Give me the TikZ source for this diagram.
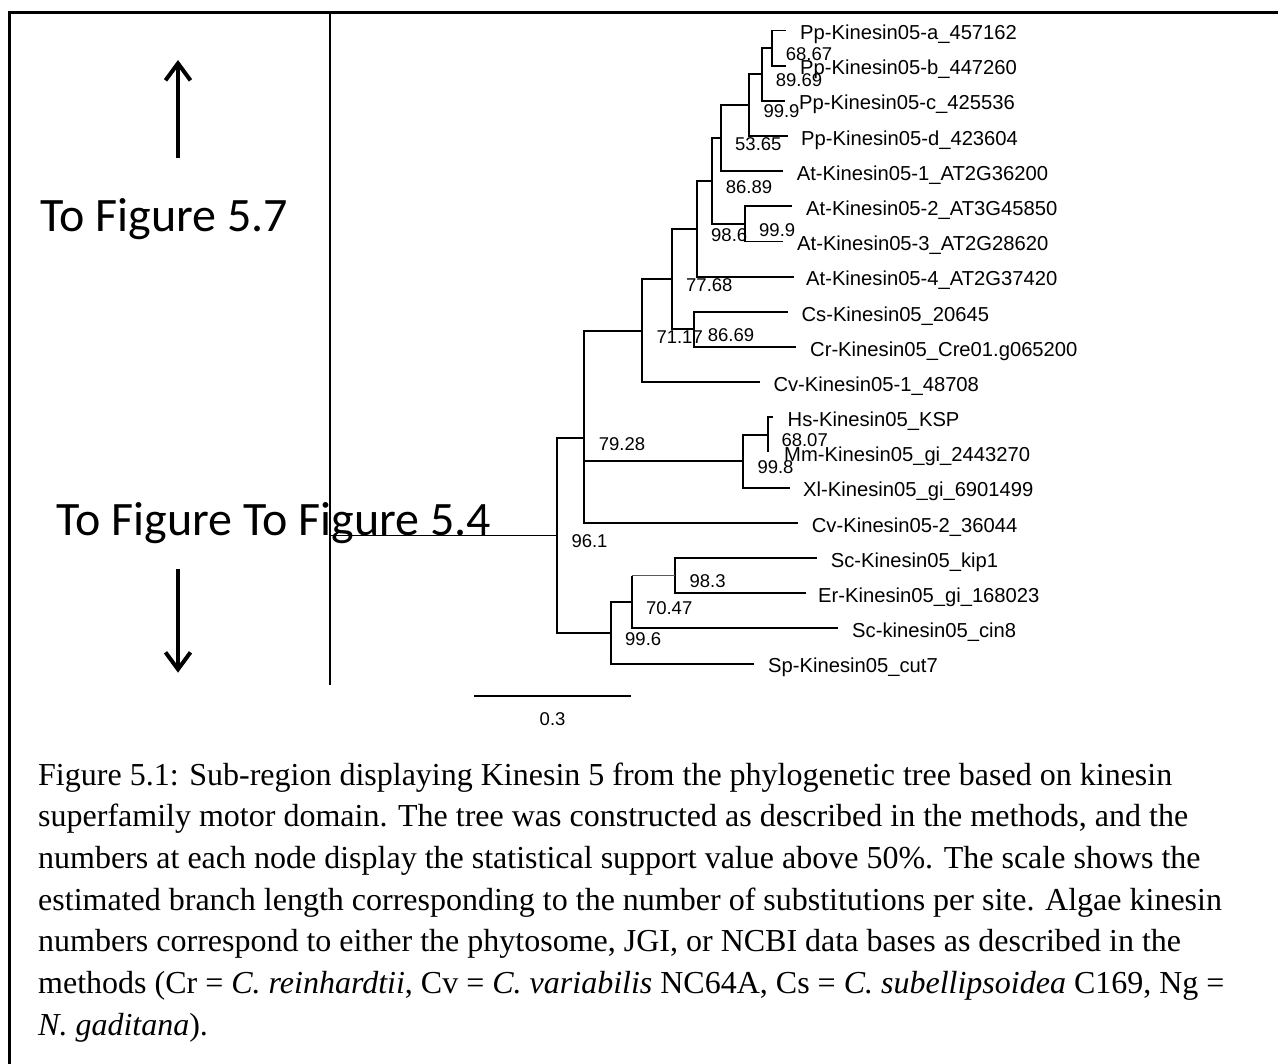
\documentclass[tikz,border=0pt]{standalone}
\usepackage{fontspec}
\setmainfont{Liberation Serif}
\newfontfamily\arialf{Liberation Sans}
\newfontfamily\calibrif{Carlito}
\usetikzlibrary{arrows.meta}
\begin{document}
\begin{tikzpicture}[x=1pt,y=-1pt,
  br/.style={line width=1.9pt, line join=miter},
  thinbr/.style={line width=1.2pt, draw=black!65},
  leaf/.style={anchor=base west, inner sep=0pt, font=\arialf\fontsize{20.2}{22}\selectfont},
  sup/.style={anchor=west, inner sep=0pt, font=\arialf\fontsize{18.5}{20}\selectfont},
  captxt/.style={anchor=base west, inner sep=0pt, font=\fontsize{32}{40}\selectfont},
  big/.style={anchor=base west, inner sep=0pt, font=\calibrif\fontsize{48}{52}\selectfont},
  arr/.style={line width=4.5pt, -{Straight Barb[length=17pt,width=25pt,line width=4pt]}}
]
\fill[white] (0,0) rectangle (1278,1064);
\useasboundingbox (0,0) rectangle (1278,1064);
% frame and divider
\draw[line width=2.6pt] (9.3,1080) -- (9.3,12.7) -- (1290,12.7);
\draw[line width=2pt] (329.7,12.7) -- (329.7,684.5);
% left panel
\node[big] (fig57) at (40,232) {To Figure 5.7};
\node[big] (fig54) at (56,536) {To Figure To Figure 5.4};
\coordinate (upT) at (178,157.7); \coordinate (upH) at (178,60);
\coordinate (dnT) at (178,569.3); \coordinate (dnH) at (178,672.7);
\draw[arr] (upT) -- (upH);
\draw[arr] (dnT) -- (dnH);
% leaf tips
\coordinate (t0) at (786,30.5);
\coordinate (t1) at (786,65.7);
\coordinate (t2) at (785,100.8);
\coordinate (t3) at (788.3,136.0);
\coordinate (t4) at (783.3,171.2);
\coordinate (t5) at (791.7,206.4);
\coordinate (t6) at (783,241.5);
\coordinate (t7) at (793.6,276.7);
\coordinate (t8) at (787.5,311.9);
\coordinate (t9) at (796.4,347.0);
\coordinate (t10) at (760,382.2);
\coordinate (t11) at (773.3,417.4);
\coordinate (t12) at (768.3,452.5);
\coordinate (t13) at (790,487.7);
\coordinate (t14) at (798.3,522.9);
\coordinate (t15) at (817,558.0);
\coordinate (t16) at (805.7,593.2);
\coordinate (t17) at (837.9,628.4);
\coordinate (t18) at (754,663.6);
% internal nodes
\coordinate (nab) at (771.7,48.1);
\coordinate (nabc) at (761.7,74.45);
\coordinate (nabcd) at (749.3,105.2);
\coordinate (nppat) at (721,138.2);
\coordinate (n23) at (745,223.95);
\coordinate (npa23) at (711.7,181.1);
\coordinate (npa234) at (697,228.9);
\coordinate (ncscr) at (693.6,329.45);
\coordinate (nland) at (672,279.2);
\coordinate (nplant) at (642.3,330.7);
\coordinate (nhm) at (768.3,434.95);
\coordinate (nhmx) at (743.3,461.3);
\coordinate (nvert) at (583.7,438.3);
\coordinate (nkip) at (675.4,575.6);
\coordinate (nf3) at (631.8,602);
\coordinate (nf) at (611,632.8);
\coordinate (nroot) at (557.3,535.5);
\coordinate (rootin) at (329.7,535.5);
% branches
\draw[br] (nab) |- (t0); \draw[br] (nab) |- (t1);
\draw[br] (nabc) |- (nab); \draw[br] (nabc) |- (t2);
\draw[br] (nabcd) |- (nabc); \draw[br] (nabcd) |- (t3);
\draw[br] (nppat) |- (nabcd); \draw[br] (nppat) |- (t4);
\draw[br] (n23) |- (t5); \draw[br] (n23) |- (t6);
\draw[br] (npa23) |- (nppat); \draw[br] (npa23) |- (n23);
\draw[br] (npa234) |- (npa23); \draw[br] (npa234) |- (t7);
\draw[br] (ncscr) |- (t8); \draw[br] (ncscr) |- (t9);
\draw[br] (nland) |- (npa234); \draw[br] (nland) |- (ncscr);
\draw[br] (nplant) |- (nland); \draw[br] (nplant) |- (t10);
\draw[br] (nhm) |- (t11); \draw[br] (nhm) -- (t12);
\draw[br] (nhmx) |- (nhm); \draw[br] (nhmx) |- (t13);
\draw[br] (nvert) |- (nplant); \draw[br] (nvert) |- (nhmx); \draw[br] (nvert) |- (t14);
\draw[br] (nkip) |- (t15); \draw[br] (nkip) |- (t16);
\draw[br] (nf3) -- (nf3 |- nkip); \draw[thinbr] (nf3 |- nkip) -- (nkip); \draw[br] (nf3) |- (t17);
\draw[br] (nf) |- (nf3); \draw[br] (nf) |- (t18);
\draw[br] (nroot) |- (nvert); \draw[br] (nroot) |- (nf);
\draw[br] (rootin) -- (nroot);
% leaf labels
\node[leaf] (l0) at (800,39.7) {Pp-Kinesin05-a\_457162};
\node[leaf] (l1) at (800,74.9) {Pp-Kinesin05-b\_447260};
\node[leaf] (l2) at (799,110.0) {Pp-Kinesin05-c\_425536};
\node[leaf] (l3) at (801,145.2) {Pp-Kinesin05-d\_423604};
\node[leaf] (l4) at (796.7,180.4) {At-Kinesin05-1\_AT2G36200};
\node[leaf] (l5) at (806,215.6) {At-Kinesin05-2\_AT3G45850};
\node[leaf] (l6) at (797,250.7) {At-Kinesin05-3\_AT2G28620};
\node[leaf] (l7) at (806,285.9) {At-Kinesin05-4\_AT2G37420};
\node[leaf] (l8) at (801.4,321.1) {Cs-Kinesin05\_20645};
\node[leaf] (l9) at (810,356.2) {Cr-Kinesin05\_Cre01.g065200};
\node[leaf] (l10) at (773.3,391.4) {Cv-Kinesin05-1\_48708};
\node[leaf] (l11) at (787.5,426.6) {Hs-Kinesin05\_KSP};
\node[leaf] (l12) at (784,461.7) {Mm-Kinesin05\_gi\_2443270};
\node[leaf] (l13) at (803,496.9) {Xl-Kinesin05\_gi\_6901499};
\node[leaf] (l14) at (811.7,532.1) {Cv-Kinesin05-2\_36044};
\node[leaf] (l15) at (830.7,567.2) {Sc-Kinesin05\_kip1};
\node[leaf] (l16) at (818,602.4) {Er-Kinesin05\_gi\_168023};
\node[leaf] (l17) at (852,637.6) {Sc-kinesin05\_cin8};
\node[leaf] (l18) at (768,672.8) {Sp-Kinesin05\_cut7};
% support values
\node[sup] (s1) at ([xshift=14pt,yshift=-6pt]nab) {68.67};
\node[sup] (s2) at ([xshift=14pt,yshift=-6pt]nabc) {89.69};
\node[sup] (s3) at ([xshift=14pt,yshift=-6pt]nabcd) {99.9};
\node[sup] (s4) at ([xshift=14pt,yshift=-6pt]nppat) {53.65};
\node[sup] (s5) at ([xshift=14pt,yshift=-6pt]n23) {99.9};
\node[sup] (s6) at ([xshift=14pt,yshift=-6pt]npa23) {86.89};
\node[sup] (s7) at ([xshift=14pt,yshift=-6pt]npa234) {98.6};
\node[sup] (s8) at ([xshift=14pt,yshift=-6pt]ncscr) {86.69};
\node[sup] (s9) at ([xshift=14pt,yshift=-6pt]nland) {77.68};
\node[sup] (s10) at ([xshift=14pt,yshift=-6pt]nplant) {71.17};
\node[sup] (s11) at ([xshift=13pt,yshift=-5pt]nhm) {68.07};
\node[sup] (s12) at ([xshift=14pt,yshift=-6pt]nhmx) {99.8};
\node[sup] (s13) at ([xshift=15pt,yshift=-6pt]nvert) {79.28};
\node[sup] (s14) at ([xshift=14pt,yshift=-6pt]nkip) {98.3};
\node[sup] (s15) at ([xshift=14pt,yshift=-6pt]nf3) {70.47};
\node[sup] (s16) at ([xshift=14pt,yshift=-6pt]nf) {99.6};
\node[sup] (s17) at ([xshift=14pt,yshift=-6pt]nroot) {96.1};
% scale bar
\coordinate (sbl) at (474.3,696); \coordinate (sbr) at (631,696);
\draw[line width=1.8pt] (sbl) -- (sbr);
\node[sup, anchor=center] (sbt) at (552.6,719) {0.3};
% caption
\node[captxt] (c1) at (38,785) {Figure 5.1: Sub-region displaying Kinesin 5 from the phylogenetic tree based on kinesin};
\node[captxt] (c2) at (38,826.7) {superfamily motor domain. The tree was constructed as described in the methods, and the};
\node[captxt] (c3) at (38,868.3) {numbers at each node display the statistical support value above 50\%. The scale shows the};
\node[captxt] (c4) at (38,910) {estimated branch length corresponding to the number of substitutions per site. Algae kinesin};
\node[captxt] (c5) at (38,951.7) {numbers correspond to either the phytosome, JGI, or NCBI data bases as described in the};
\node[captxt] (c6) at (38,993.3) {methods (Cr = \textit{C. reinhardtii}, Cv = \textit{C. variabilis} NC64A, Cs = \textit{C. subellipsoidea} C169, Ng =};
\node[captxt] (c7) at (38,1035) {\textit{N. gaditana}).};
\end{tikzpicture}
\end{document}
